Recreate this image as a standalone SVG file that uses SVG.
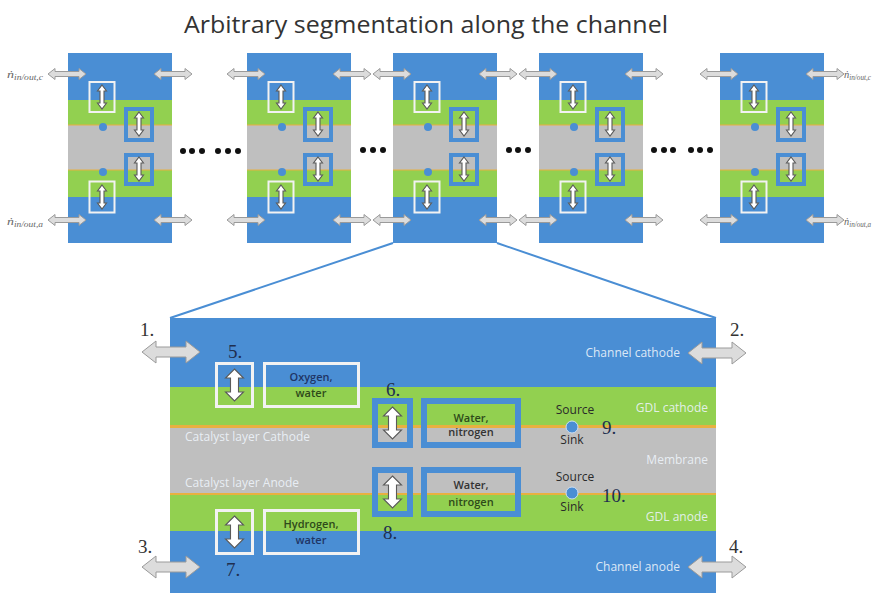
<svg xmlns="http://www.w3.org/2000/svg" xmlns:xlink="http://www.w3.org/1999/xlink" width="873" height="593" viewBox="0 0 873 593">
<style>
.blue{fill:#4a8ed4}
.green{fill:#92d050}
.gray{fill:#bfbfbf}
.orange{fill:#e8b040}
.wbox{fill:none;stroke:#f2f2f2;stroke-width:3}
.bbox{fill:none;stroke:#4a8ed4;stroke-width:6}
.wboxs{fill:none;stroke:#f2f2f2;stroke-width:2}
.bboxs{fill:none;stroke:#4a8ed4;stroke-width:4}
.harrow{fill:#dcdcdc;stroke:#9a9a9a;stroke-width:1}
.varrow{fill:#ffffff;stroke:#5a5a5a;stroke-width:1.1}
.dot{fill:#4a8ed4}
.ell{fill:#111}
.title{font-family:"Open Sans","Liberation Sans",sans-serif;font-size:24px;fill:#333;text-anchor:middle}
.box{font-family:"Open Sans","Liberation Sans",sans-serif;font-size:11px;font-weight:600;text-anchor:middle}
.src{font-family:"Open Sans","Liberation Sans",sans-serif;font-size:12px;fill:#2a2a2a;text-anchor:middle}
.layer{font-family:"Open Sans","Liberation Sans",sans-serif;font-size:12px;fill:#eef4fb;fill-opacity:0.9}
.num{font-family:"Liberation Serif","DejaVu Serif",serif;font-size:19px;fill:#1f2f4f}
.num2{font-family:"Liberation Serif","DejaVu Serif",serif;font-size:19px;fill:#333}
.ndot{font-family:"Liberation Serif","DejaVu Serif",serif;font-style:italic;font-size:11px;fill:#666}
.conn{stroke:#4a8ed4;stroke-width:2;fill:none}
</style>
<defs>
<path id="haS" d="M0,0 L7,-5.5 L7,-2.5 L31,-2.5 L31,-5.5 L38,0 L31,5.5 L31,2.5 L7,2.5 L7,5.5 Z"/>
<path id="vaS" d="M0,0 L4.5,6 L2,6 L2,18 L4.5,18 L0,24 L-4.5,18 L-2,18 L-2,6 L-4.5,6 Z"/>
<path id="haB" d="M0,0 L14,-11 L14,-5 L44,-5 L44,-11 L58,0 L44,11 L44,5 L14,5 L14,11 Z"/>
<path id="vaB" d="M0,0 L9,9 L4,9 L4,23 L9,23 L0,32 L-9,23 L-4,23 L-4,9 L-9,9 Z"/>
<g id="segTpl">
<rect class="blue" x="0" y="53" width="104" height="190"/>
<rect class="green" x="0" y="100" width="104" height="25"/>
<rect class="gray" x="0" y="125" width="104" height="45"/>
<rect class="green" x="0" y="170" width="104" height="27"/>
<rect class="orange" x="0" y="124.5" width="104" height="1"/>
<rect class="orange" x="0" y="169.5" width="104" height="1"/>
<rect class="wboxs" x="21.5" y="82" width="25" height="30"/>
<rect class="bboxs" x="58" y="109" width="26" height="31"/>
<rect class="bboxs" x="58" y="155" width="26" height="29"/>
<rect class="wboxs" x="21.5" y="181.5" width="25" height="31"/>
<use href="#vaS" class="varrow" x="34" y="85"/>
<use href="#vaS" class="varrow" x="71" y="112"/>
<use href="#vaS" class="varrow" x="71" y="157"/>
<use href="#vaS" class="varrow" x="34" y="185"/>
<circle class="dot" cx="35" cy="127" r="4"/>
<circle class="dot" cx="35" cy="172" r="4"/>
<use href="#haS" class="harrow" x="-20" y="74"/>
<use href="#haS" class="harrow" x="86" y="74"/>
<use href="#haS" class="harrow" x="-20" y="220"/>
<use href="#haS" class="harrow" x="86" y="220"/>
</g>
</defs>

<text class="title" x="426" y="33" textLength="484" lengthAdjust="spacingAndGlyphs">Arbitrary segmentation along the channel</text>

<g id="connectors">
<line class="conn" x1="393" y1="243" x2="170" y2="318"/>
<line class="conn" x1="497" y1="243" x2="716" y2="318"/>
</g>

<g id="segment1"><use href="#segTpl" x="68" y="0"/></g>
<g id="segment2"><use href="#segTpl" x="247" y="0"/></g>
<g id="segment3"><use href="#segTpl" x="393" y="0"/></g>
<g id="segment4"><use href="#segTpl" x="539" y="0"/></g>
<g id="segment5"><use href="#segTpl" x="720" y="0"/></g>

<g id="flow-labels">
<text class="ndot" x="7" y="78" textLength="36" lengthAdjust="spacingAndGlyphs">ṅ<tspan font-size="7.5" dy="2">in/out,c</tspan></text>
<text class="ndot" x="7" y="225" textLength="36" lengthAdjust="spacingAndGlyphs">ṅ<tspan font-size="7.5" dy="2">in/out,a</tspan></text>
<text class="ndot" x="844" y="78" textLength="27" lengthAdjust="spacingAndGlyphs">ṅ<tspan font-size="7.5" dy="2">in/out,c</tspan></text>
<text class="ndot" x="844" y="225" textLength="27" lengthAdjust="spacingAndGlyphs">ṅ<tspan font-size="7.5" dy="2">in/out,a</tspan></text>
</g>

<g id="ellipses">
<circle class="ell" cx="183" cy="151" r="3"/><circle class="ell" cx="192" cy="151" r="3"/><circle class="ell" cx="202" cy="151" r="3"/>
<circle class="ell" cx="218" cy="151" r="3"/><circle class="ell" cx="228" cy="151" r="3"/><circle class="ell" cx="238" cy="151" r="3"/>
<circle class="ell" cx="363" cy="150" r="3"/><circle class="ell" cx="373" cy="150" r="3"/><circle class="ell" cx="383" cy="150" r="3"/>
<circle class="ell" cx="509" cy="150" r="3"/><circle class="ell" cx="518" cy="150" r="3"/><circle class="ell" cx="528" cy="150" r="3"/>
<circle class="ell" cx="654" cy="150" r="3"/><circle class="ell" cx="664" cy="150" r="3"/><circle class="ell" cx="673" cy="150" r="3"/>
<circle class="ell" cx="691" cy="150" r="3"/><circle class="ell" cx="700" cy="150" r="3"/><circle class="ell" cx="710" cy="150" r="3"/>
</g>

<g id="detail-panel">
<rect class="blue" x="170" y="318" width="546" height="275"/>
<rect class="green" x="170" y="387" width="546" height="39"/>
<rect class="orange" x="170" y="425" width="546" height="3"/>
<rect class="gray" x="170" y="428" width="546" height="65"/>
<rect class="orange" x="170" y="493" width="546" height="2"/>
<rect class="green" x="170" y="495" width="546" height="36"/>
<text class="layer" x="680" y="357" text-anchor="end">Channel cathode</text>
<text class="layer" x="708" y="412" text-anchor="end">GDL cathode</text>
<text class="layer" x="185" y="441">Catalyst layer Cathode</text>
<text class="layer" x="708" y="464" text-anchor="end">Membrane</text>
<text class="layer" x="185" y="487">Catalyst layer Anode</text>
<text class="layer" x="708" y="521" text-anchor="end">GDL anode</text>
<text class="layer" x="680" y="571" text-anchor="end">Channel anode</text>
</g>

<g id="flow1"><use href="#haB" class="harrow" x="142" y="352"/><text class="num2" x="140" y="336">1.</text></g>
<g id="flow2"><use href="#haB" class="harrow" x="688" y="353"/><text class="num2" x="730" y="336">2.</text></g>
<g id="flow3"><use href="#haB" class="harrow" x="142" y="567"/><text class="num2" x="138" y="553">3.</text></g>
<g id="flow4"><use href="#haB" class="harrow" x="688" y="567"/><text class="num2" x="729" y="553">4.</text></g>

<g id="node5">
<rect class="wbox" x="216.5" y="363.5" width="36" height="43"/>
<use href="#vaB" class="varrow" x="234.5" y="369"/>
<text class="num" x="228" y="358">5.</text>
<rect class="wbox" x="264.5" y="363.5" width="94" height="43"/>
<text class="box" x="311" y="381" fill="#1f3566">Oxygen,</text>
<text class="box" x="311" y="397" fill="#2e4a1a">water</text>
</g>

<g id="node6">
<rect class="bbox" x="375" y="401" width="35" height="44"/>
<use href="#vaB" class="varrow" x="392.5" y="407"/>
<text class="num" x="386" y="396">6.</text>
<rect class="bbox" x="424" y="401" width="94" height="44"/>
<text class="box" x="471" y="422" fill="#2e4a1a">Water,</text>
<text class="box" x="471" y="436" fill="#333">nitrogen</text>
</g>

<g id="node8">
<rect class="bbox" x="375" y="470" width="35" height="44"/>
<use href="#vaB" class="varrow" x="392.5" y="476"/>
<text class="num" x="383" y="539">8.</text>
<rect class="bbox" x="424" y="470" width="94" height="44"/>
<text class="box" x="471" y="489" fill="#333">Water,</text>
<text class="box" x="471" y="506" fill="#2e4a1a">nitrogen</text>
</g>

<g id="node7">
<rect class="wbox" x="216.5" y="510.5" width="36" height="43"/>
<use href="#vaB" class="varrow" x="234.5" y="516"/>
<text class="num" x="226" y="576">7.</text>
<rect class="wbox" x="264.5" y="510.5" width="94" height="43"/>
<text class="box" x="311" y="528" fill="#2e4a1a">Hydrogen,</text>
<text class="box" x="311" y="544" fill="#1f3566">water</text>
</g>

<g id="node9">
<text class="src" x="575" y="414">Source</text>
<circle cx="572" cy="427" r="6" fill="#4a8ed4" stroke="#cfe0f2" stroke-width="1"/>
<text class="src" x="572" y="444">Sink</text>
<text class="num" x="602" y="434">9.</text>
</g>

<g id="node10">
<text class="src" x="575" y="481">Source</text>
<circle cx="572" cy="493" r="6" fill="#4a8ed4" stroke="#cfe0f2" stroke-width="1"/>
<text class="src" x="572" y="511">Sink</text>
<text class="num" x="602" y="502">10.</text>
</g>
</svg>
